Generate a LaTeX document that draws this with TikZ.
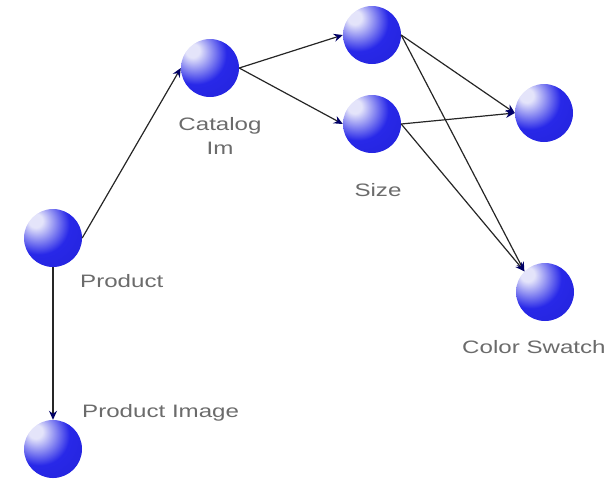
\documentclass[tikz,border=0pt]{standalone}
\usepackage{fontspec}
\newfontfamily\lblfont[FakeStretch=1.34]{Liberation Sans}
\usetikzlibrary{arrows.meta, shadings}
\definecolor{ballhi}{RGB}{228,228,250}
\definecolor{ballmid}{RGB}{40,40,232}
\definecolor{balllo}{RGB}{10,10,150}
\pgfdeclareradialshading{sphere}{\pgfpoint{-16bp}{16bp}}{%
  color(0bp)=(ballhi); color(6bp)=(ballhi); color(26bp)=(ballmid);
  color(52bp)=(ballmid!80!balllo); color(72bp)=(balllo); color(100bp)=(balllo)}

\begin{document}
\begin{tikzpicture}[
    x=1pt, y=-1pt,
    ball/.style={circle, minimum size=58pt, inner sep=0pt, shading=sphere},
    lbl/.style={text=black!58, font=\lblfont\fontsize{18pt}{22pt}\selectfont, inner sep=0pt},
    link/.style={black!85, line width=1.2pt, -{Stealth[length=9pt, width=8pt, color=blue!40!black]}},
]
\useasboundingbox (0,0) rectangle (609,483);
% spheres
\node[ball] (prod) at (53,238) {};
\node[ball] (img) at (53,449) {};
\node[ball] (cat) at (210,68) {};
\node[ball] (top) at (372,35) {};
\node[ball] (size) at (372,124) {};
\node[ball] (rgt) at (544,113) {};
\node[ball] (swatch) at (545,292) {};
% labels
\node[lbl, align=center] (catlbl) at (220,136) {Catalog\\[2pt]Im};
\node[lbl] (sizelbl) at (378,190) {Size};
\node[lbl, anchor=west] (prodlbl) at (80,281) {Product};
\node[lbl, anchor=west] (imglbl) at (82,413) {Product Image};
\node[lbl, anchor=west] (swatchlbl) at (462,347) {Color Swatch};
% links
\draw[link] (prod.east) -- (cat.west);
\draw[link] (prod.south) -- (img.north);
\foreach \a/\b in {cat/top, cat/size, top/rgt, size/rgt} {
   \draw[link] (\a.east) -- (\b.west);
}
\foreach \a in {top, size} {
   \draw[link] (\a.east) -- (swatch.north west);
}
\end{tikzpicture}
\end{document}
